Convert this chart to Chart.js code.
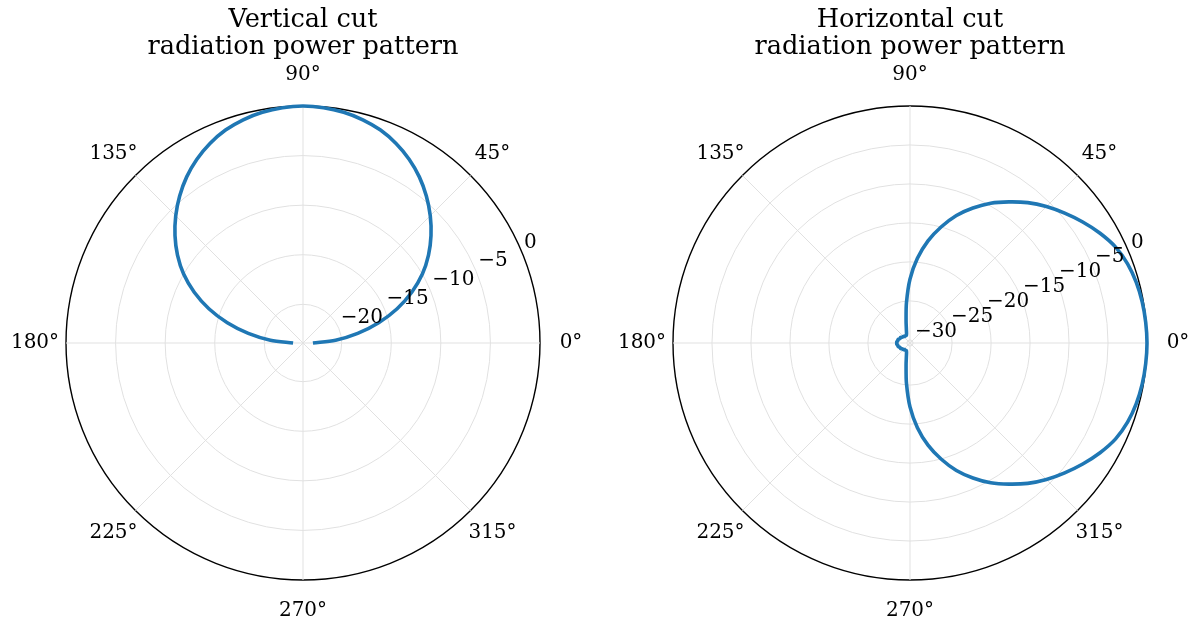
<!DOCTYPE html>
<html>
<head>
<meta charset="utf-8">
<script src="https://cdn.jsdelivr.net/npm/chart.js@4.4.1/dist/chart.umd.min.js"></script>
<style>
  html, body { margin: 0; padding: 0; background: #ffffff; }
  #wrap { position: relative; width: 1195px; height: 623px; overflow: hidden; background: #fff; }
  canvas { position: absolute; top: 0; }
  #cv1 { left: 0; }
  #cv2 { left: 606px; }
</style>
</head>
<body>
<div id="wrap">
  <canvas id="cv1" width="606" height="623"></canvas>
  <canvas id="cv2" width="589" height="623"></canvas>
</div>
<script>
// ---- data (angles in degrees, counter-clockwise from 0° = east) ----
const thetaDeg = [0,5,10,15,20,25,30,35,40,45,50,55,60,65,70,75,80,85,
  90,95,100,105,110,115,120,125,130,135,140,145,150,155,160,165,170,175,
  180,185,190,195,200,205,210,215,220,225,230,235,240,245,250,255,260,265,
  270,275,280,285,290,295,300,305,310,315,320,325,330,335,340,345,350,355];

// Vertical cut, power in dB (no trace below the horizon)
const verticalCutDb = [-22.9,-20.6,-18.3,-16.0,-13.8,-11.8,-10.0,-8.45,-7.05,-5.75,-4.55,-3.45,-2.5,-1.7,-1.05,-0.6,-0.28,-0.08,
  0.0,-0.08,-0.28,-0.6,-1.05,-1.7,-2.5,-3.45,-4.55,-5.75,-7.05,-8.45,-10.0,-11.8,-13.8,-16.0,-18.3,-20.6,
  -22.9,null,null,null,null,null,null,null,null,null,null,null,null,null,null,null,null,null,
  null,null,null,null,null,null,null,null,null,null,null,null,null,null,null,null,null,null];

// Horizontal cut, power in dB
const horizontalCutDb = [0.0,-0.05,-0.15,-0.35,-0.7,-1.3,-2.25,-3.35,-4.5,-5.65,-6.9,-8.3,-9.7,-11.3,-13.0,-15.0,-17.1,-19.5,
  -22.2,-25.2,-27.5,-28.6,-29.1,-29.3,-29.3,-29.3,-29.3,-29.2,-29.2,-29.1,-29.0,-29.0,-28.9,-28.8,-28.8,-28.7,
  -28.7,-28.7,-28.8,-28.8,-28.9,-29.0,-29.0,-29.1,-29.2,-29.2,-29.3,-29.3,-29.3,-29.3,-29.1,-28.6,-27.5,-25.2,
  -22.2,-19.5,-17.1,-15.0,-13.0,-11.3,-9.7,-8.3,-6.9,-5.65,-4.5,-3.35,-2.25,-1.3,-0.7,-0.35,-0.15,-0.05];

const angleTickDeg = [0,45,90,135,180,225,270,315];
const angleTickLabels = ['0°','45°','90°','135°','180°','225°','270°','315°'];
const verticalRTicks = [-20,-15,-10,-5,0];
const horizontalRTicks = [-30,-25,-20,-15,-10,-5,0];
const verticalRange = [-23.9, 0];
const horizontalRange = [-30.4, 0];

const titles = [['Vertical cut','radiation power pattern'], ['Horizontal cut','radiation power pattern']];

// ---- helpers ----
const N = thetaDeg.length;
const STEP = 360 / N;
// radar runs clockwise from startAngle; reorder so angles run counter-clockwise
const orderIdx = thetaDeg.map((_, i) => (N - i) % N);
const indexForDeg = deg => Math.round(((360 - deg) % 360) / STEP) % N;
const fmt = v => (v < 0 ? '\u2212' + Math.abs(v) : String(v));

const GRID = '#e1e1e1';
const FONT = '"DejaVu Serif", "Liberation Serif", serif';

const polarLabels = {
  id: 'polarLabels',
  afterDraw(chart, args, opts) {
    const s = chart.scales.r;
    const ctx = chart.ctx;
    ctx.save();
    ctx.fillStyle = '#000';
    ctx.font = '20px ' + FONT;
    ctx.textAlign = 'center';
    ctx.textBaseline = 'middle';
    angleTickDeg.forEach((deg, k) => {
      const p = s.getPointPosition(indexForDeg(deg), s.drawingArea + 31);
      ctx.fillText(angleTickLabels[k], p.x, p.y);
    });
    ctx.textAlign = 'left';
    ctx.textBaseline = 'bottom';
    opts.ticks.forEach(v => {
      const p = s.getPointPosition(0, s.getDistanceFromCenterForValue(v), -Math.PI / 8);
      ctx.fillText(fmt(v), p.x + 2, p.y);
    });
    ctx.restore();
  }
};

function makePolar(canvasId, values, range, rTicks, title, pad) {
  return new Chart(document.getElementById(canvasId), {
    type: 'radar',
    data: {
      labels: orderIdx.map(j => thetaDeg[j] + '°'),
      datasets: [{
        data: orderIdx.map(j => values[j]),
        borderColor: '#1f77b4',
        borderWidth: 3.6,
        borderJoinStyle: 'round',
        fill: false,
        pointRadius: 0,
        pointHitRadius: 0,
        spanGaps: false,
        tension: 0.3,
        clip: false
      }]
    },
    options: {
      responsive: false,
      maintainAspectRatio: false,
      animation: false,
      devicePixelRatio: 1,
      layout: { padding: pad },
      events: [],
      elements: { line: { capBezierPoints: false } },
      plugins: {
        legend: { display: false },
        tooltip: { enabled: false },
        title: {
          display: true,
          text: title,
          color: '#000',
          font: { family: FONT, size: 25.6, weight: 'normal', lineHeight: 1.04 },
          padding: { top: 7.5, bottom: 45.5 }
        },
        polarLabels: { ticks: rTicks }
      },
      scales: {
        r: {
          min: range[0],
          max: range[1],
          startAngle: 90,
          afterBuildTicks: (scale) => {
            scale.ticks = [{ value: range[0] }].concat(rTicks.map(v => ({ value: v })));
          },
          ticks: { display: false },
          pointLabels: { display: false },
          grid: {
            circular: true,
            color: (c) => (c.tick && c.tick.value === range[1] ? '#000000' : GRID),
            lineWidth: (c) => (c.tick && c.tick.value === range[1] ? 1.4 : 1)
          },
          angleLines: {
            display: true,
            color: (c) => (angleTickDeg.some(d => indexForDeg(d) === c.index) ? GRID : 'rgba(0,0,0,0)'),
            lineWidth: 1
          }
        }
      }
    },
    plugins: [polarLabels]
  });
}

makePolar('cv1', verticalCutDb, verticalRange, verticalRTicks, titles[0], { left: 66, right: 66, top: 0, bottom: 42.75 });
makePolar('cv2', horizontalCutDb, horizontalRange, horizontalRTicks, titles[1], { left: 67, right: 48, top: 0, bottom: 42.75 });
</script>
</body>
</html>
